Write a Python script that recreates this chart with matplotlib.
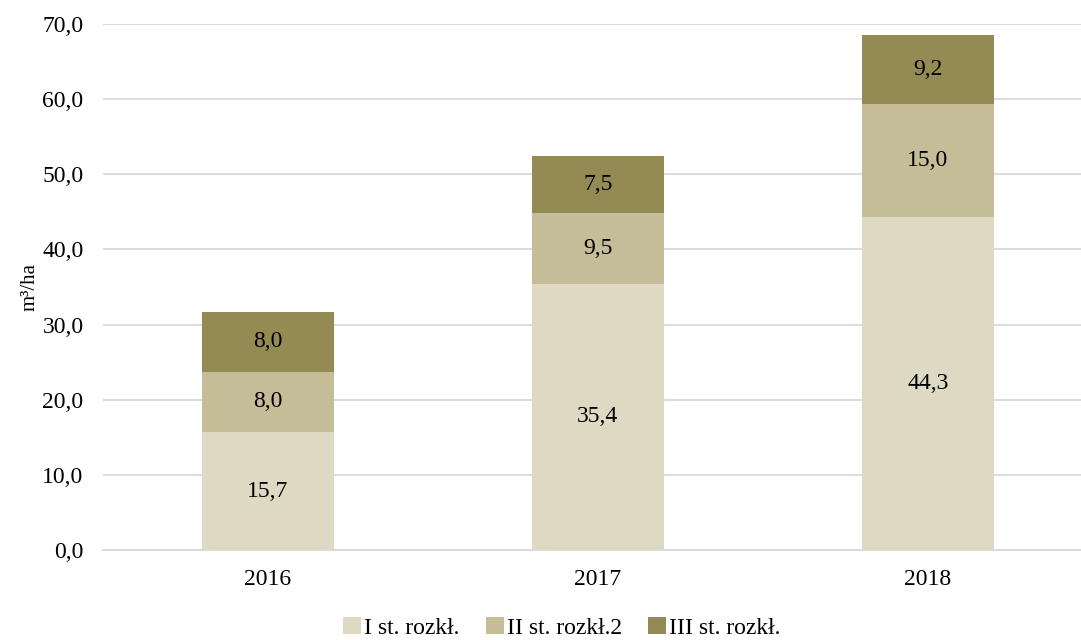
import matplotlib.pyplot as plt
import numpy as np

plt.rcParams['font.family'] = ['Liberation Serif', 'DejaVu Serif']

# Dane
years = ['2016', '2017', '2018']
stage1 = [15.7, 35.4, 44.3]
stage2 = [8.0, 9.5, 15.0]
stage3 = [8.0, 7.5, 9.2]
labels = ['I st. rozkł.', 'II st. rozkł.2', 'III st. rozkł.']
colors = ['#DDD9C3', '#C4BD97', '#948A54']

fig = plt.figure(figsize=(10.81, 6.4), dpi=100)
ax = fig.add_axes([103 / 1081, 90 / 640, 990 / 1081, 526 / 640])

x = np.arange(len(years))
bottom = np.zeros(len(years))
for vals, lab, col in zip([stage1, stage2, stage3], labels, colors):
    bars = ax.bar(x, vals, width=0.4, bottom=bottom, color=col, label=lab, zorder=3)
    for b, v, bt in zip(bars, vals, bottom):
        ax.text(b.get_x() + b.get_width() / 2, bt + v / 2, f"{v:.1f}".replace('.', ','),
                ha='center', va='center', fontsize=17, color='black', zorder=4)
    bottom += np.array(vals)

ax.set_xlim(-0.5, 2.5)
ax.set_ylim(0, 70)
ax.set_yticks(np.arange(0, 71, 10))
ax.set_yticklabels([f"{t:.1f}".replace('.', ',') for t in np.arange(0, 71, 10)])
ax.set_xticks(x)
ax.set_xticklabels(years)
ax.tick_params(axis='both', length=0, labelsize=17)
ax.tick_params(axis='y', pad=14)
ax.tick_params(axis='x', pad=14)
ax.yaxis.grid(True, color='#D9D9D9', linewidth=1.3, zorder=0)
for s in ['top', 'right', 'left']:
    ax.spines[s].set_visible(False)
ax.spines['bottom'].set_color('#D9D9D9')
ax.spines['bottom'].set_linewidth(1.3)

ax.set_ylabel('m³/ha', fontsize=15, labelpad=2)

fig.legend(loc='center', bbox_to_anchor=(562 / 1081, 1 - 628 / 640), ncol=3,
           frameon=False, fontsize=17, handlelength=0.75, handleheight=0.75,
           handletextpad=0.15, columnspacing=1.1)

fig.savefig('out.png', dpi=100)
